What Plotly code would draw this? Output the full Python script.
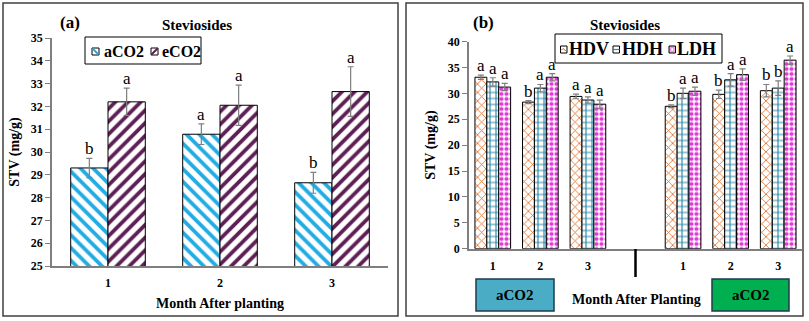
import plotly.graph_objects as go

W, H = 809, 321

# panel (a)
months = ["1", "2", "3"]
a_co2 = [29.3, 30.78, 28.65]
a_err = [0.42, 0.45, 0.46]
a_let = ["b", "a", "b"]
e_co2 = [32.2, 32.05, 32.65]
e_err = [0.6, 0.88, 1.09]
e_let = ["a", "a", "a"]

# panel (b)
pos_b = [1, 2, 3, 5, 6, 7]
months_b = ["1", "2", "3", "1", "2", "3"]
hdv = [33.1, 28.3, 29.4, 27.5, 29.8, 30.5]
hdv_err = [0.4, 0.3, 0.45, 0.25, 0.8, 1.2]
hdv_let = ["a", "b", "a", "b", "b", "b"]
hdh = [32.2, 31.0, 28.7, 30.0, 32.6, 31.0]
hdh_err = [0.8, 0.7, 0.6, 1.0, 1.2, 1.4]
hdh_let = ["a", "a", "a", "a", "a", "b"]
ldh = [31.2, 33.1, 27.9, 30.4, 33.6, 36.4]
ldh_err = [0.7, 0.7, 0.8, 0.8, 1.1, 0.8]
ldh_let = ["a", "a", "a", "a", "a", "a"]

SERIF = "Liberation Serif"


def px(x):
    return x / W


def py(y):
    return 1 - y / H


fig = go.Figure()
annos = []
shapes = []


def txt(x, y, t, size, bold=True):
    annos.append(dict(x=px(x), y=py(y), xref="paper", yref="paper", text=t, showarrow=False,
                      xanchor="center", yanchor="middle",
                      font=dict(family=SERIF, size=size, color="black", weight="bold" if bold else "normal")))


def add_bars(xs, ys, errs, lets, name, color, shape, off, wid, xa, ya, size, sol):
    fig.add_trace(go.Bar(
        x=xs, y=ys, name=name, xaxis=xa, yaxis=ya, showlegend=False,
        width=wid, offset=off, opacity=1,
        marker=dict(color=color, opacity=1, line=dict(color="black", width=1),
                    pattern=dict(shape=shape, fgcolor=color, bgcolor="white", fgopacity=1,
                                 size=size, solidity=sol)),
        error_y=dict(type="data", array=errs, color="#7f7f7f", thickness=1.2, width=3),
    ))
    for x, y, e, t in zip(xs, ys, errs, lets):
        annos.append(dict(x=x + off + wid / 2, y=y + e, xref=xa, yref=ya, text=t, showarrow=False,
                          xanchor="center", yanchor="bottom", yshift=-2,
                          font=dict(family=SERIF, size=17, color="black")))


xa1 = [1, 2, 3]
add_bars(xa1, a_co2, a_err, a_let, "aCO2", "#22ace4", "\\", -0.333, 0.333, "x", "y", 9, 0.42)
add_bars(xa1, e_co2, e_err, e_let, "eCO2", "#5e1f55", "/", 0.0, 0.333, "x", "y", 9, 0.42)

add_bars(pos_b, hdv, hdv_err, hdv_let, "HDV", "#e0661a", "x", -0.375, 0.25, "x2", "y2", 6, 0.25)
add_bars(pos_b, hdh, hdh_err, hdh_let, "HDH", "#2a8aa8", "+", -0.125, 0.25, "x2", "y2", 6, 0.35)
add_bars(pos_b, ldh, ldh_err, ldh_let, "LDH", "#e03ad8", ".", 0.125, 0.25, "x2", "y2", 5, 0.55)

bold = dict(family=SERIF, size=12, color="black", weight="bold")
title_font = dict(family=SERIF, size=14, color="black", weight="bold")
axcol = "#7f7f7f"

fig.update_layout(
    width=W, height=H, margin=dict(l=0, r=0, t=0, b=0, autoexpand=False),
    paper_bgcolor="white", plot_bgcolor="white",
    barmode="overlay", showlegend=False,
    xaxis=dict(domain=[px(52), px(388)], range=[0.5, 3.5], tickvals=xa1, ticktext=months,
               showline=True, linecolor=axcol, linewidth=1.5, ticks="", tickfont=bold,
               ticklabelstandoff=5, anchor="y", showgrid=False, zeroline=False, automargin=False,
               title=dict(text="Month After planting", font=title_font, standoff=9)),
    yaxis=dict(domain=[py(266), py(38)], range=[25, 35], dtick=1, anchor="x", automargin=False,
               showline=True, linecolor=axcol, linewidth=1.5, ticks="outside", ticklen=5, tickcolor=axcol,
               tickfont=bold, showgrid=False, zeroline=False,
               title=dict(text="STV (mg/g)", font=title_font, standoff=8)),
    xaxis2=dict(domain=[px(469), px(802)], range=[0.5, 7.5], tickvals=pos_b, ticktext=months_b,
                showline=True, linecolor=axcol, linewidth=1.5, ticks="", tickfont=bold,
                ticklabelstandoff=5, anchor="y2", showgrid=False, zeroline=False, automargin=False),
    yaxis2=dict(domain=[py(248.7), py(41.5)], range=[0, 40], dtick=5, anchor="x2", automargin=False,
                showline=True, linecolor=axcol, linewidth=1.5, ticks="outside", ticklen=5, tickcolor=axcol,
                tickfont=bold, showgrid=False, zeroline=False,
                title=dict(text="STV (mg/g)", font=title_font, standoff=9)),
)

# titles and panel labels
txt(197, 25, "Steviosides", 15)
txt(625, 25, "Steviosides", 15)
txt(70, 22, "(a)", 17)
txt(483, 22, "(b)", 17)
txt(636, 299, "Month After Planting", 14)


def rect(x0, y0, x1, y1, fill="white", line="black", lw=1):
    shapes.append(dict(type="rect", xref="paper", yref="paper", x0=px(x0), x1=px(x1), y0=py(y1), y1=py(y0),
                       fillcolor=fill, line=dict(color=line, width=lw)))


def seg(x0, y0, x1, y1, col, lw=1.5):
    shapes.append(dict(type="line", xref="paper", yref="paper", x0=px(x0), x1=px(x1), y0=py(y0), y1=py(y1),
                       line=dict(color=col, width=lw)))


# legend of panel (a)
rect(85, 37, 201, 64)
rect(92, 48, 99, 55)
seg(92.5, 48.5, 98.5, 54.5, "#22ace4", 2)
txt(123.5, 51, "aCO2", 16)
rect(151, 48, 158, 55)
seg(151.5, 54.5, 157.5, 48.5, "#5e1f55", 2)
txt(181, 51, "eCO2", 16)

# legend of panel (b)
rect(555, 34, 722, 63)
rect(560.5, 46, 567, 53)
seg(561, 50.5, 563, 48.5, "#e0661a", 1)
seg(563, 48.5, 566.5, 51.5, "#e0661a", 1)
txt(588.5, 49.5, "HDV", 18)
rect(613, 46, 619.5, 53)
seg(613, 49.5, 619.5, 49.5, "#2a8aa8", 1.2)
txt(642.5, 49.5, "HDH", 18)
rect(669, 46, 675.5, 53, fill="#f0b8ec")
rect(670.8, 47.8, 673.7, 51.2, fill="white", line="#e03ad8", lw=0.5)
txt(696, 49.5, "LDH", 18)

# treatment boxes under panel (b)
for x0, x1, col, t in [(476, 554, "#4bacc6", "aCO2"), (712, 789, "#00b050", "aCO2")]:
    rect(x0, 279, x1, 311, fill=col, line="#1f3b4d", lw=1.5)
    txt((x0 + x1) / 2, 295, t, 15)

# divider between the two groups
shapes.append(dict(type="line", xref="x2", yref="paper", x0=4, x1=4, y0=py(249), y1=py(277),
                   line=dict(color="black", width=2.5)))

# panel frames
for x0, x1 in [(3, 398), (406, 803)]:
    rect(x0, 3, x1, 316, fill="rgba(0,0,0,0)", line="#404040", lw=1.5)

fig.update_layout(annotations=annos, shapes=shapes)
fig.write_html("out.html", config={"displayModeBar": False},
               post_script="document.body.style.margin='0';")
